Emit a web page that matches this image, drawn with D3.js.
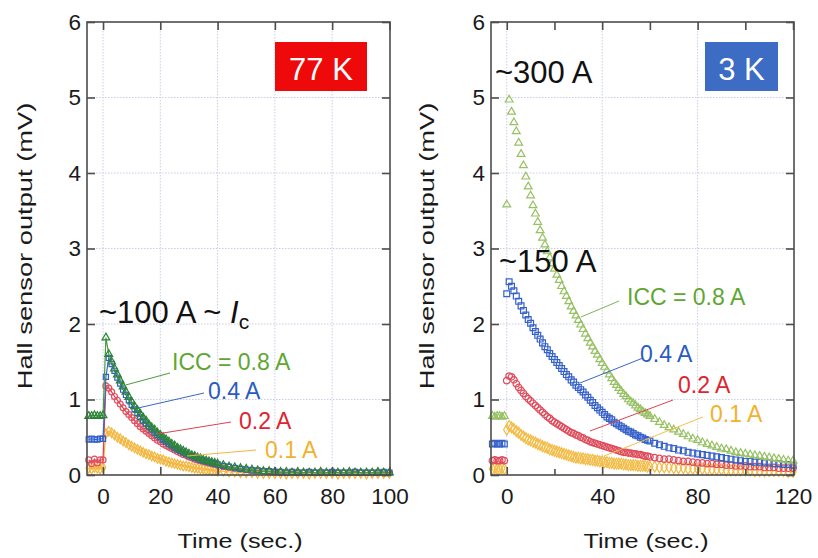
<!DOCTYPE html>
<html><head><meta charset="utf-8">
<script src="https://cdn.jsdelivr.net/npm/d3@7"></script>
<style>
html,body{margin:0;padding:0;background:#fff;}
svg{display:block;font-family:"Liberation Sans",Arial,sans-serif;}
</style></head>
<body><svg id="c" width="818" height="558"></svg>
<script>
// ---------- DATA ----------
const yTicks = [0,1,2,3,4,5,6];
const leftXTicks = [0,20,40,60,80,100];
const rightXTicks = [0,40,80,120];
const rightXMinor = [20,60,100];
const seriesLabels = ["ICC = 0.8 A","0.4 A","0.2 A","0.1 A"];

const leftTime = [-5,-4,-3,-2,-1,
  0,1,2,3,4,5,6,7,8,9,10,11,12,13,14,15,16,17,18,19,20,21,22,23,24,25,26,27,28,29,30,31,32,33,34,35,36,37,38,39,40,
  42,44,46,48,50,52,54,56,58,60,62,64,66,68,70,72,74,76,78,80,82,84,86,88,90,92,94,96,98,100];
const leftGreen = [0.78,0.78,0.79,0.78,0.78,
  0.79,1.82,1.60,1.50,1.41,1.33,1.25,1.17,1.10,1.03,0.97,0.91,0.86,0.81,0.76,0.72,0.67,0.63,0.60,0.56,0.53,0.50,0.47,0.44,0.41,0.39,0.36,0.34,0.32,0.30,0.28,0.26,0.25,0.23,0.22,0.20,0.19,0.18,0.17,0.16,0.15,
  0.13,0.11,0.10,0.09,0.08,0.07,0.06,0.05,0.05,0.04,
  0.04,0.04,0.03,0.04,0.03,0.03,0.03,0.04,0.03,0.03,0.03,0.03,0.04,0.03,0.03,0.03,0.03,0.04,0.03,0.03];
const leftBlue = [0.47,0.48,0.47,0.47,0.48,
  0.48,1.30,1.55,1.47,1.38,1.29,1.21,1.13,1.06,0.99,0.93,0.87,0.82,0.77,0.72,0.68,0.64,0.60,0.56,0.53,0.50,0.47,0.44,0.41,0.39,0.36,0.34,0.32,0.30,0.28,0.26,0.25,0.23,0.22,0.20,0.19,0.18,0.17,0.16,0.15,0.14,
  0.12,0.11,0.09,0.08,0.07,0.06,0.06,0.05,0.05,0.04,
  0.04,0.03,0.04,0.03,0.03,0.04,0.03,0.03,0.03,0.04,0.03,0.03,0.03,0.04,0.03,0.03,0.03,0.03,0.04,0.03];
const leftRed = [0.20,0.15,0.21,0.16,0.20,
  0.20,1.18,1.15,1.10,1.04,0.99,0.94,0.89,0.84,0.80,0.76,0.72,0.68,0.64,0.61,0.58,0.55,0.52,0.49,0.46,0.44,0.41,0.39,0.37,0.35,0.33,0.31,0.29,0.27,0.26,0.24,0.23,0.21,0.20,0.19,0.18,0.17,0.16,0.15,0.14,0.13,
  0.11,0.10,0.09,0.08,0.07,0.06,0.05,0.05,0.04,0.04,
  0.03,0.03,0.04,0.03,0.03,0.03,0.03,0.04,0.03,0.03,0.03,0.03,0.03,0.04,0.03,0.03,0.03,0.03,0.03,0.03];
const leftOrange = [0.09,0.08,0.10,0.09,0.08,
  0.10,0.55,0.58,0.56,0.53,0.50,0.48,0.45,0.43,0.40,0.38,0.36,0.34,0.32,0.30,0.28,0.27,0.25,0.24,0.22,0.21,0.20,0.18,0.17,0.16,0.15,0.14,0.13,0.12,0.12,0.11,0.10,0.09,0.09,0.08,0.08,0.07,0.07,0.06,0.06,0.05,
  0.05,0.04,0.04,0.03,0.03,0.03,0.02,0.02,0.02,0.02,
  0.02,0.01,0.02,0.02,0.02,0.01,0.02,0.02,0.02,0.02,0.01,0.02,0.02,0.02,0.02,0.01,0.02,0.02,0.02,0.02];

const rightTime = [-6,-5,-4,-3,-2,-1,
  0,1,2,3,4,5,6,7,8,9,10,11,12,13,14,15,16,17,18,19,20,21,22,23,24,25,26,27,28,29,30,
  31,32,33,34,35,36,37,38,39,40,41,42,43,44,45,46,47,48,49,50,51,52,53,54,55,56,57,58,59,60,
  62,64,66,68,70,72,74,76,78,80,82,84,86,88,90,92,94,96,98,100,102,104,106,108,110,112,114,116,118,120];
const rightGreen = [0.78,0.77,0.78,0.78,0.77,0.78,
  3.58,4.97,4.81,4.67,4.55,4.40,4.25,4.10,3.95,3.82,3.70,3.57,3.46,3.35,3.24,3.14,3.05,2.96,2.88,2.80,2.73,2.65,2.58,2.50,2.43,2.37,2.30,2.23,2.17,2.11,2.05,
  1.99,1.93,1.87,1.81,1.75,1.70,1.64,1.59,1.53,1.48,1.43,1.38,1.33,1.28,1.23,1.19,1.15,1.11,1.07,1.04,1.00,0.97,0.95,0.92,0.89,0.87,0.84,0.82,0.80,0.78,
  0.74,0.70,0.66,0.63,0.60,0.57,0.54,0.51,0.48,0.46,0.43,0.41,0.39,0.37,0.35,0.34,0.32,0.30,0.29,0.28,0.27,0.26,0.25,0.24,0.23,0.22,0.21,0.20,0.19,0.19];
const rightBlue = [0.41,0.42,0.41,0.41,0.42,0.41,
  2.40,2.56,2.50,2.44,2.37,2.30,2.24,2.18,2.12,2.06,2.01,1.95,1.90,1.85,1.80,1.75,1.70,1.66,1.61,1.57,1.53,1.49,1.45,1.41,1.37,1.33,1.30,1.26,1.23,1.19,1.16,
  1.13,1.10,1.06,1.03,0.99,0.96,0.92,0.89,0.86,0.83,0.80,0.77,0.75,0.73,0.70,0.68,0.66,0.64,0.62,0.60,0.58,0.57,0.55,0.53,0.52,0.50,0.49,0.47,0.46,0.45,
  0.42,0.40,0.38,0.36,0.35,0.33,0.32,0.30,0.29,0.28,0.27,0.26,0.25,0.24,0.23,0.22,0.21,0.20,0.19,0.18,0.18,0.17,0.17,0.16,0.16,0.15,0.15,0.14,0.14,0.13];
const rightRed = [0.19,0.20,0.19,0.19,0.20,0.19,
  1.25,1.31,1.30,1.26,1.21,1.16,1.12,1.08,1.04,1.01,0.98,0.95,0.92,0.89,0.86,0.83,0.80,0.77,0.75,0.72,0.70,0.68,0.66,0.64,0.62,0.60,0.58,0.56,0.55,0.53,0.52,
  0.50,0.49,0.47,0.46,0.44,0.43,0.42,0.41,0.40,0.39,0.38,0.37,0.36,0.35,0.34,0.33,0.32,0.31,0.30,0.30,0.29,0.29,0.28,0.28,0.27,0.27,0.26,0.25,0.25,0.24,
  0.23,0.22,0.21,0.21,0.20,0.19,0.18,0.18,0.17,0.16,0.16,0.15,0.15,0.14,0.14,0.13,0.13,0.12,0.12,0.12,0.11,0.11,0.11,0.10,0.10,0.10,0.09,0.09,0.09,0.09];
const rightOrange = [0.08,0.09,0.08,0.08,0.09,0.08,
  0.60,0.65,0.63,0.61,0.58,0.56,0.53,0.51,0.49,0.47,0.46,0.44,0.43,0.41,0.40,0.38,0.37,0.36,0.34,0.33,0.32,0.31,0.30,0.29,0.28,0.27,0.26,0.25,0.24,0.23,0.23,
  0.22,0.22,0.21,0.21,0.20,0.20,0.19,0.19,0.18,0.18,0.17,0.17,0.16,0.16,0.15,0.15,0.15,0.15,0.14,0.14,0.13,0.13,0.13,0.13,0.12,0.12,0.12,0.12,0.11,0.11,
  0.11,0.10,0.10,0.10,0.09,0.09,0.09,0.08,0.08,0.08,0.08,0.07,0.07,0.07,0.07,0.06,0.06,0.06,0.06,0.06,0.06,0.05,0.05,0.05,0.05,0.05,0.05,0.05,0.04,0.04];

// ---------- DRAW ----------
const svg = d3.select("#c");
const FONT = '"Liberation Sans",Arial,sans-serif';

function panel(cfg){
  const g = svg.append("g");
  const x = d3.scaleLinear().domain(cfg.xDomain).range(cfg.xRange);
  const y = d3.scaleLinear().domain([0,6]).range([475,22]);
  const [x0,x1] = cfg.xRange, y0 = 475, y1 = 22;

  // grid
  const grid = g.append("g").attr("stroke","#c9cde8").attr("stroke-width",1).attr("stroke-dasharray","1.5,1.5");
  cfg.gridX.forEach(v=>grid.append("line").attr("x1",x(v)).attr("x2",x(v)).attr("y1",y1).attr("y2",y0));
  [1,2,3,4,5].forEach(v=>grid.append("line").attr("x1",x0).attr("x2",x1).attr("y1",y(v)).attr("y2",y(v)));

  // series
  const cols = cfg.colors;
  const sets = cfg.series;
  [3,2,1,0].forEach(i=>{
    const pts = cfg.time.map((t,k)=>[t,sets[i][k]]);
    if(cfg.lines){
      g.append("path").datum(pts)
        .attr("fill","none").attr("stroke",cols[i].line).attr("stroke-width",1.2)
        .attr("d",d3.line().x(d=>x(d[0])).y(d=>y(d[1])));
    }
    const sym = d3.symbol().type(cfg.symbols[i]).size(cfg.symSize[i]);
    g.append("g").selectAll("path").data(pts).join("path")
      .attr("transform",d=>`translate(${x(d[0])},${y(d[1])})`)
      .attr("d",sym).attr("fill","none").attr("stroke",cols[i].mark).attr("stroke-width",1.2);
  });

  // frame
  g.append("rect").attr("x",x0).attr("y",y1).attr("width",x1-x0).attr("height",y0-y1)
    .attr("fill","none").attr("stroke","#4d4d4d").attr("stroke-width",1.6);

  // axes
  g.append("g").attr("transform",`translate(0,${y0})`)
    .call(d3.axisBottom(x).tickValues(cfg.xTicks).tickSize(-8).tickPadding(13).tickFormat(d3.format("d")));
  g.append("g").attr("transform",`translate(0,${y1})`)
    .call(d3.axisTop(x).tickValues(cfg.xTicks.concat(cfg.xMinor||[])).tickSize(-8).tickFormat(""));
  if(cfg.xMinor){
    g.append("g").attr("transform",`translate(0,${y0})`)
      .call(d3.axisBottom(x).tickValues(cfg.xMinor).tickSize(-6).tickFormat(""));
  }
  g.append("g").attr("transform",`translate(${x0},0)`)
    .call(d3.axisLeft(y).tickValues(yTicks).tickSize(-8).tickPadding(6).tickFormat(d3.format("d")));
  g.append("g").attr("transform",`translate(${x1},0)`)
    .call(d3.axisRight(y).tickValues(yTicks).tickSize(-8).tickFormat(""));
  g.selectAll(".domain").remove();
  g.selectAll(".tick line").attr("stroke","#4d4d4d").attr("stroke-width",1.6);
  g.selectAll(".tick text").attr("font-family",FONT).attr("font-size",22.5).attr("fill","#1a1a1a");

  // axis titles
  g.append("text").attr("transform",`translate(${cfg.yTitleX},${246}) rotate(-90) scale(1.3,1)`)
    .attr("text-anchor","middle").attr("font-family",FONT).attr("font-size",21).attr("fill","#1a1a1a")
    .text("Hall sensor output (mV)");
  g.append("text").attr("transform",`translate(${cfg.xTitleX},548) scale(1.2,1)`)
    .attr("text-anchor","middle").attr("font-family",FONT).attr("font-size",21).attr("fill","#1a1a1a")
    .text("Time (sec.)");

  // temperature box
  const b = cfg.box;
  g.append("rect").attr("x",b.x).attr("y",42).attr("width",b.w).attr("height",49).attr("fill",b.color);
  g.append("text").attr("x",b.x+b.w/2).attr("y",79.5).attr("text-anchor","middle")
    .attr("font-family",FONT).attr("font-size",31).attr("fill","#fff").text(b.text);

  // leader lines + labels
  cfg.labels.forEach((L,i)=>{
    g.append("line").attr("x1",L.lx1).attr("y1",L.ly1).attr("x2",L.lx2).attr("y2",L.ly2)
      .attr("stroke",cols[i].line).attr("stroke-width",1);
    g.append("text").attr("x",L.x).attr("y",L.y).attr("font-family",FONT).attr("font-size",23)
      .attr("fill",cols[i].text).text(seriesLabels[i]);
  });
  return g;
}

const palLeft = [
  {mark:"#2c8436", line:"#4f9a3c", text:"#5fa633"},
  {mark:"#2f5fcf", line:"#3a66c8", text:"#2a5bc0"},
  {mark:"#e0505f", line:"#e04050", text:"#e0242f"},
  {mark:"#f2b63c", line:"#f0b540", text:"#f1b22e"}
];
const palRight = [
  {mark:"#97c164", line:"#7fb257", text:"#5fa633"},
  {mark:"#3561c9", line:"#3a66c8", text:"#2a5bc0"},
  {mark:"#e04a5a", line:"#e04050", text:"#e0242f"},
  {mark:"#f3bb45", line:"#f0c050", text:"#f1b22e"}
];

const pL = panel({
  xDomain:[-5.6,100.2], xRange:[87,390], xTicks:leftXTicks, gridX:[0,20,40,60,80],
  time:leftTime, series:[leftGreen,leftBlue,leftRed,leftOrange], lines:true,
  symbols:[d3.symbolTriangle,d3.symbolSquare,d3.symbolCircle,d3.symbolDiamond], symSize:[26,26,28,26],
  colors:palLeft, yTitleX:32, xTitleX:240,
  box:{x:275,w:92,color:"#ee0a0a",text:"77 K"},
  labels:[
    {x:172,y:370,lx1:170,ly1:373,lx2:122,ly2:386},
    {x:208,y:399,lx1:204,ly1:393,lx2:138,ly2:408},
    {x:239,y:429,lx1:231,ly1:422,lx2:157,ly2:434},
    {x:265,y:458,lx1:256,ly1:450,lx2:187,ly2:456}
  ]
});
pL.append("text").attr("x",99).attr("y",323).attr("font-family",FONT).attr("font-size",31).attr("fill","#111")
  .call(t=>{
    t.append("tspan").text("~100 A ~ ");
    t.append("tspan").attr("font-style","italic").text("I");
    t.append("tspan").attr("font-size",21).attr("dy",6).text("c");
  });

const pR = panel({
  xDomain:[-6.6,120.4], xRange:[491,794], xTicks:rightXTicks, xMinor:rightXMinor, gridX:[0,40,80],
  time:rightTime, series:[rightGreen,rightBlue,rightRed,rightOrange], lines:false,
  symbols:[d3.symbolTriangle,d3.symbolSquare,d3.symbolCircle,d3.symbolDiamond], symSize:[26,34,34,34],
  colors:palRight, yTitleX:434, xTitleX:646,
  box:{x:705,w:73,color:"#3d6cc4",text:"3 K"},
  labels:[
    {x:627,y:305,lx1:619,ly1:301,lx2:581,ly2:317},
    {x:640,y:362,lx1:643,ly1:358,lx2:580,ly2:383},
    {x:678,y:393,lx1:673,ly1:400,lx2:590,ly2:431},
    {x:710,y:422,lx1:703,ly1:417,lx2:604,ly2:456}
  ]
});
pR.append("text").attr("x",495).attr("y",83).attr("font-family",FONT).attr("font-size",31).attr("fill","#111").text("~300 A");
pR.append("text").attr("x",499).attr("y",272).attr("font-family",FONT).attr("font-size",31).attr("fill","#111").text("~150 A");
</script></body></html>
